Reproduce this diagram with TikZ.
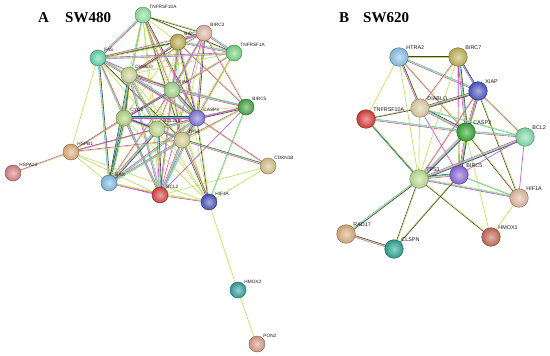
\documentclass[tikz,border=0pt]{standalone}
\usepackage{fontspec}
\usetikzlibrary{calc,backgrounds}
\newfontfamily\labfont{Liberation Sans}
\newfontfamily\titfont{Liberation Serif}

% evidence colours of the links
\definecolor{tm}{RGB}{190,220,85}
\definecolor{ex}{RGB}{200,75,200}
\definecolor{db}{RGB}{80,192,220}
\definecolor{co}{RGB}{65,65,65}
\definecolor{gn}{RGB}{38,118,84}
\definecolor{hm}{RGB}{140,140,225}

% protein colours, panel A
\definecolor{cTtenA}{RGB}{150,225,165}
\definecolor{cBtwoA}{RGB}{190,178,85}
\definecolor{cBthreeA}{RGB}{228,188,168}
\definecolor{cToneA}{RGB}{120,215,130}
\definecolor{cFasA}{RGB}{100,215,170}
\definecolor{cDiaA}{RGB}{208,216,155}
\definecolor{cXiapA}{RGB}{165,215,140}
\definecolor{cBfiveA}{RGB}{75,168,75}
\definecolor{cCycsA}{RGB}{182,212,130}
\definecolor{cCaspA}{RGB}{130,120,218}
\definecolor{cBclxA}{RGB}{192,220,145}
\definecolor{cPA}{RGB}{218,210,150}
\definecolor{cHspbA}{RGB}{225,175,122}
\definecolor{cHspaA}{RGB}{218,132,132}
\definecolor{cCdkA}{RGB}{214,196,140}
\definecolor{cBaxA}{RGB}{130,192,228}
\definecolor{cBclA}{RGB}{218,72,72}
\definecolor{cHifA}{RGB}{78,88,190}
\definecolor{cHmoxA}{RGB}{55,160,160}
\definecolor{cPonA}{RGB}{218,158,138}
% protein colours, panel B
\definecolor{cHtraB}{RGB}{140,195,232}
\definecolor{cBsevenB}{RGB}{195,180,90}
\definecolor{cXiapB}{RGB}{78,88,200}
\definecolor{cDiaB}{RGB}{224,206,165}
\definecolor{cTtenB}{RGB}{218,62,62}
\definecolor{cCaspB}{RGB}{55,168,55}
\definecolor{cBclB}{RGB}{130,222,172}
\definecolor{cPB}{RGB}{192,225,150}
\definecolor{cBfiveB}{RGB}{142,105,218}
\definecolor{cHifB}{RGB}{228,185,162}
\definecolor{cHmoxB}{RGB}{200,108,92}
\definecolor{cRadB}{RGB}{218,176,124}
\definecolor{cClspnB}{RGB}{45,165,145}

\tikzset{
  prot/.style={circle, minimum size=16pt, inner sep=0pt, draw=#1!60!black,
    line width=0.4pt, inner color=#1!50!white, outer color=#1!92!black},
  protB/.style={prot=#1, minimum size=18.6pt},
  labA/.style={font=\labfont\fontsize{4.7}{5}\selectfont, inner sep=0.5pt, text=black!90},
  labB/.style={font=\labfont\fontsize{5.4}{6}\selectfont, inner sep=0.5pt, text=black!90},
  link/.style={line width=0.6pt},
  title/.style={font=\titfont\bfseries\fontsize{15}{16}\selectfont, anchor=base west, inner sep=0pt}
}

% one link = a bundle of thin lines, one per evidence colour
\newcommand{\bond}[3]{%
  \foreach \lc [count=\li] in {#3} {%
    \pgfmathsetmacro\bondoff{(\li-1.5)*0.75}%
    \draw[link, \lc] ($(#1.center)!\bondoff pt!90:(#2.center)$) -- ($(#2.center)!\bondoff pt!-90:(#1.center)$);
  }%
}

\begin{document}
\begin{tikzpicture}[x=1pt, y=-1pt]
    \useasboundingbox (0,0) rectangle (550,356);

    % Titles
    \node[title] (letA) at (38,22) {A};
    \node[title] (cellA) at (65,22) {SW480};
    \node[title] (letB) at (339,22) {B};
    \node[title] (cellB) at (363,22) {SW620};

    % Panel A proteins
    \node[prot=cTtenA, label={[labA]45:TNFRSF10A}] at (143,15) (t10A) {};
    \node[prot=cBtwoA, label={[labA]45:BIRC}] at (178,42) (b2A) {};
    \node[prot=cBthreeA, label={[labA]45:BIRC3}] at (204,33) (b3A) {};
    \node[prot=cToneA, label={[labA]45:TNFRSF1A}] at (234,53) (t1aA) {};
    \node[prot=cFasA, label={[labA]45:FAS}] at (98,58) (fasA) {};
    \node[prot=cDiaA, label={[labA]45:DIABLO}] at (129,75) (diaA) {};
    \node[prot=cXiapA, label={[labA]45:XIAP}] at (172,90) (xiapA) {};
    \node[prot=cBfiveA, label={[labA]45:BIRC5}] at (246,107) (b5A) {};
    \node[prot=cCycsA, label={[labA]45:CYCS}] at (124,118) (cycsA) {};
    \node[prot=cCaspA, label={[labA]45:CASP3}] at (197,118) (c3A) {};
    \node[prot=cBclxA, label={[labA]45:BCL2L1}] at (157,129) (bl1A) {};
    \node[prot=cPA, label={[labA]45:TP53}] at (182,140) (p53A) {};
    \node[prot=cHspbA, label={[labA]45:HSPB1}] at (71,152) (hspb1A) {};
    \node[prot=cHspaA, label={[labA]45:HSPA14}] at (13,173) (hspa14A) {};
    \node[prot=cCdkA, label={[labA]45:CDKN1B}] at (268,166) (cdkA) {};
    \node[prot=cBaxA, label={[labA]45:BAX}] at (109,183) (baxA) {};
    \node[prot=cBclA, label={[labA]45:BCL2}] at (160,195) (bcl2A) {};
    \node[prot=cHifA, label={[labA]45:HIF1A}] at (209,202) (hifA) {};
    \node[prot=cHmoxA, label={[labA]45:HMOX2}] at (238,290) (hmox2A) {};
    \node[prot=cPonA, label={[labA]45:PON2}] at (257,344) (pon2A) {};

    % Panel B proteins
    \node[protB=cHtraB, label={[labB]45:HTRA2}] at (399,57) (htraB) {};
    \node[protB=cBsevenB, label={[labB]45:BIRC7}] at (458,57) (b7B) {};
    \node[protB=cXiapB, label={[labB]45:XIAP}] at (478,91) (xiapB) {};
    \node[protB=cDiaB, label={[labB]45:DIABLO}] at (420,108) (diaB) {};
    \node[protB=cTtenB, label={[labB]45:TNFRSF10A}] at (366,119) (t10B) {};
    \node[protB=cCaspB, label={[labB]45:CASP3}] at (466,132) (c3B) {};
    \node[protB=cBclB, label={[labB]45:BCL2}] at (525,137) (bcl2B) {};
    \node[protB=cPB, label={[labB]45:TP53}] at (419,179) (p53B) {};
    \node[protB=cBfiveB, label={[labB]45:BIRC5}] at (459,175) (b5B) {};
    \node[protB=cHifB, label={[labB]45:HIF1A}] at (519,198) (hifB) {};
    \node[protB=cHmoxB, label={[labB]45:HMOX1}] at (491,237) (hmox1B) {};
    \node[protB=cRadB, label={[labB]45:RAD17}] at (346,234) (rad17B) {};
    \node[protB=cClspnB, label={[labB]45:CLSPN}] at (394,249) (clspnB) {};

    \begin{scope}[on background layer]
    \fill[white] (0,0) rectangle (550,356);

    % Panel A links
    \bond{t10A}{b3A}{co,tm}
    \bond{t10A}{b2A}{tm}
    \bond{t10A}{t1aA}{tm,co}
    \bond{t10A}{fasA}{db,tm,ex}
    \bond{t10A}{diaA}{tm}
    \bond{t10A}{xiapA}{ex,tm}
    \bond{t10A}{c3A}{ex,tm,co}
    \bond{t10A}{cycsA}{tm}
    \bond{t10A}{bl1A}{tm}
    \bond{t10A}{p53A}{tm,co}
    \bond{t10A}{baxA}{db,tm}
    \bond{t10A}{bcl2A}{tm}
    \bond{t10A}{hifA}{tm}
    \bond{b2A}{b3A}{hm,ex,co}
    \bond{b2A}{t1aA}{ex,tm,db}
    \bond{b2A}{fasA}{gn,co,tm}
    \bond{b2A}{diaA}{ex,tm,co}
    \bond{b2A}{xiapA}{hm,ex,tm,db}
    \bond{b2A}{c3A}{co,ex,tm}
    \bond{b2A}{cycsA}{tm}
    \bond{b2A}{p53A}{tm}
    \bond{b2A}{b5A}{ex,tm}
    \bond{b2A}{bl1A}{tm}
    \bond{b2A}{bcl2A}{tm,ex}
    \bond{b2A}{hifA}{tm}
    \bond{b3A}{t1aA}{ex,tm,db}
    \bond{b3A}{fasA}{ex,tm}
    \bond{b3A}{diaA}{ex,tm}
    \bond{b3A}{xiapA}{hm,ex,tm}
    \bond{b3A}{c3A}{ex,tm,co}
    \bond{b3A}{b5A}{ex,tm}
    \bond{b3A}{p53A}{tm}
    \bond{b3A}{bcl2A}{ex}
    \bond{t1aA}{fasA}{ex,tm,hm}
    \bond{t1aA}{xiapA}{tm,ex}
    \bond{t1aA}{c3A}{ex,tm}
    \bond{t1aA}{cycsA}{tm}
    \bond{t1aA}{p53A}{tm}
    \bond{t1aA}{diaA}{tm}
    \bond{fasA}{diaA}{tm}
    \bond{fasA}{xiapA}{tm,ex}
    \bond{fasA}{c3A}{ex,tm,db}
    \bond{fasA}{cycsA}{db,tm}
    \bond{fasA}{baxA}{db,tm,co}
    \bond{fasA}{bcl2A}{tm,ex}
    \bond{fasA}{hspb1A}{tm}
    \bond{fasA}{p53A}{tm,co}
    \bond{fasA}{bl1A}{tm}
    \bond{diaA}{xiapA}{ex,tm,db,co}
    \bond{diaA}{c3A}{ex,tm,db}
    \bond{diaA}{cycsA}{db,gn,co,tm}
    \bond{diaA}{b5A}{ex,tm}
    \bond{diaA}{bl1A}{ex,tm,db}
    \bond{diaA}{p53A}{tm}
    \bond{diaA}{baxA}{co,db,tm}
    \bond{diaA}{bcl2A}{ex,tm,db}
    \bond{diaA}{hifA}{tm}
    \bond{xiapA}{c3A}{ex,tm,db,co}
    \bond{xiapA}{b5A}{ex,tm,db}
    \bond{xiapA}{cycsA}{ex,tm,gn}
    \bond{xiapA}{bl1A}{ex,tm}
    \bond{xiapA}{p53A}{tm,ex}
    \bond{xiapA}{baxA}{ex,tm}
    \bond{xiapA}{bcl2A}{ex,tm}
    \bond{xiapA}{hifA}{tm}
    \bond{xiapA}{hspb1A}{ex}
    \bond{b5A}{c3A}{ex,tm,co}
    \bond{b5A}{p53A}{ex,tm}
    \bond{b5A}{hifA}{db,tm}
    \bond{b5A}{cycsA}{tm}
    \bond{b5A}{bl1A}{ex}
    \bond{b5A}{bcl2A}{ex}
    \bond{b5A}{baxA}{tm}
    \bond{cycsA}{c3A}{ex,tm,db,co}
    \bond{cycsA}{bl1A}{ex,tm,db}
    \bond{cycsA}{p53A}{tm,ex,co}
    \bond{cycsA}{baxA}{co,db,gn,tm}
    \bond{cycsA}{bcl2A}{ex,tm,db}
    \bond{cycsA}{hspb1A}{ex,tm}
    \bond{cycsA}{hifA}{tm}
    \bond{c3A}{bl1A}{ex,tm,db}
    \bond{c3A}{p53A}{ex,tm,co}
    \bond{c3A}{baxA}{ex,tm,db}
    \bond{c3A}{bcl2A}{ex,tm,db}
    \bond{c3A}{hifA}{co,tm}
    \bond{c3A}{hspb1A}{ex,tm}
    \bond{c3A}{cdkA}{tm,ex}
    \bond{bl1A}{p53A}{ex,tm,db}
    \bond{bl1A}{baxA}{ex,tm,db,co}
    \bond{bl1A}{bcl2A}{ex,tm,db,co}
    \bond{bl1A}{hifA}{tm}
    \bond{bl1A}{hspb1A}{ex}
    \bond{p53A}{baxA}{ex,tm,db}
    \bond{p53A}{bcl2A}{ex,tm,db}
    \bond{p53A}{hifA}{co,tm,ex}
    \bond{p53A}{cdkA}{ex,tm,gn}
    \bond{p53A}{hspb1A}{ex,tm}
    \bond{hspb1A}{hspa14A}{ex,tm}
    \bond{hspb1A}{baxA}{tm}
    \bond{hspb1A}{bcl2A}{tm}
    \bond{hspb1A}{hifA}{tm}
    \bond{baxA}{bcl2A}{ex,ex,tm}
    \bond{baxA}{hifA}{tm}
    \bond{bcl2A}{hifA}{ex,tm}
    \bond{bcl2A}{cdkA}{tm}
    \bond{hifA}{cdkA}{tm}
    \bond{hifA}{hmox2A}{tm}
    \bond{hmox2A}{pon2A}{tm}

    % Panel B links
    \bond{htraB}{b7B}{tm,ex,co}
    \bond{htraB}{xiapB}{ex,tm,db}
    \bond{htraB}{diaB}{ex,tm,co}
    \bond{htraB}{c3B}{ex,tm}
    \bond{htraB}{t10B}{tm}
    \bond{htraB}{p53B}{tm}
    \bond{b7B}{xiapB}{hm,hm,co}
    \bond{b7B}{diaB}{ex,tm}
    \bond{b7B}{c3B}{ex,tm,db,co}
    \bond{b7B}{p53B}{tm}
    \bond{b7B}{b5B}{tm,ex}
    \bond{xiapB}{diaB}{gn,tm,ex,co}
    \bond{xiapB}{c3B}{ex,tm,db,co}
    \bond{xiapB}{bcl2B}{ex,tm}
    \bond{xiapB}{p53B}{tm,ex}
    \bond{xiapB}{b5B}{ex,tm}
    \bond{xiapB}{hifB}{co,tm}
    \bond{diaB}{t10B}{tm,co}
    \bond{diaB}{c3B}{ex,tm,db,co}
    \bond{diaB}{bcl2B}{db,tm}
    \bond{diaB}{p53B}{tm}
    \bond{diaB}{b5B}{ex}
    \bond{t10B}{c3B}{ex,tm,db}
    \bond{t10B}{p53B}{db,co,tm}
    \bond{c3B}{bcl2B}{ex,tm,db}
    \bond{c3B}{p53B}{ex,tm,db,co}
    \bond{c3B}{b5B}{ex,tm,db,co}
    \bond{c3B}{hifB}{co,tm}
    \bond{c3B}{hmox1B}{tm}
    \bond{bcl2B}{p53B}{ex,tm,db,co}
    \bond{bcl2B}{b5B}{ex}
    \bond{bcl2B}{hifB}{ex}
    \bond{p53B}{b5B}{ex,tm,db,co}
    \bond{p53B}{hifB}{ex,db,tm}
    \bond{p53B}{hmox1B}{co,tm}
    \bond{p53B}{rad17B}{db,tm,co}
    \bond{p53B}{clspnB}{co,tm}
    \bond{b5B}{hifB}{db,tm}
    \bond{b5B}{clspnB}{tm,co}
    \bond{hifB}{hmox1B}{tm}
    \bond{rad17B}{clspnB}{ex,tm,co}
    \end{scope}
\end{tikzpicture}
\end{document}
